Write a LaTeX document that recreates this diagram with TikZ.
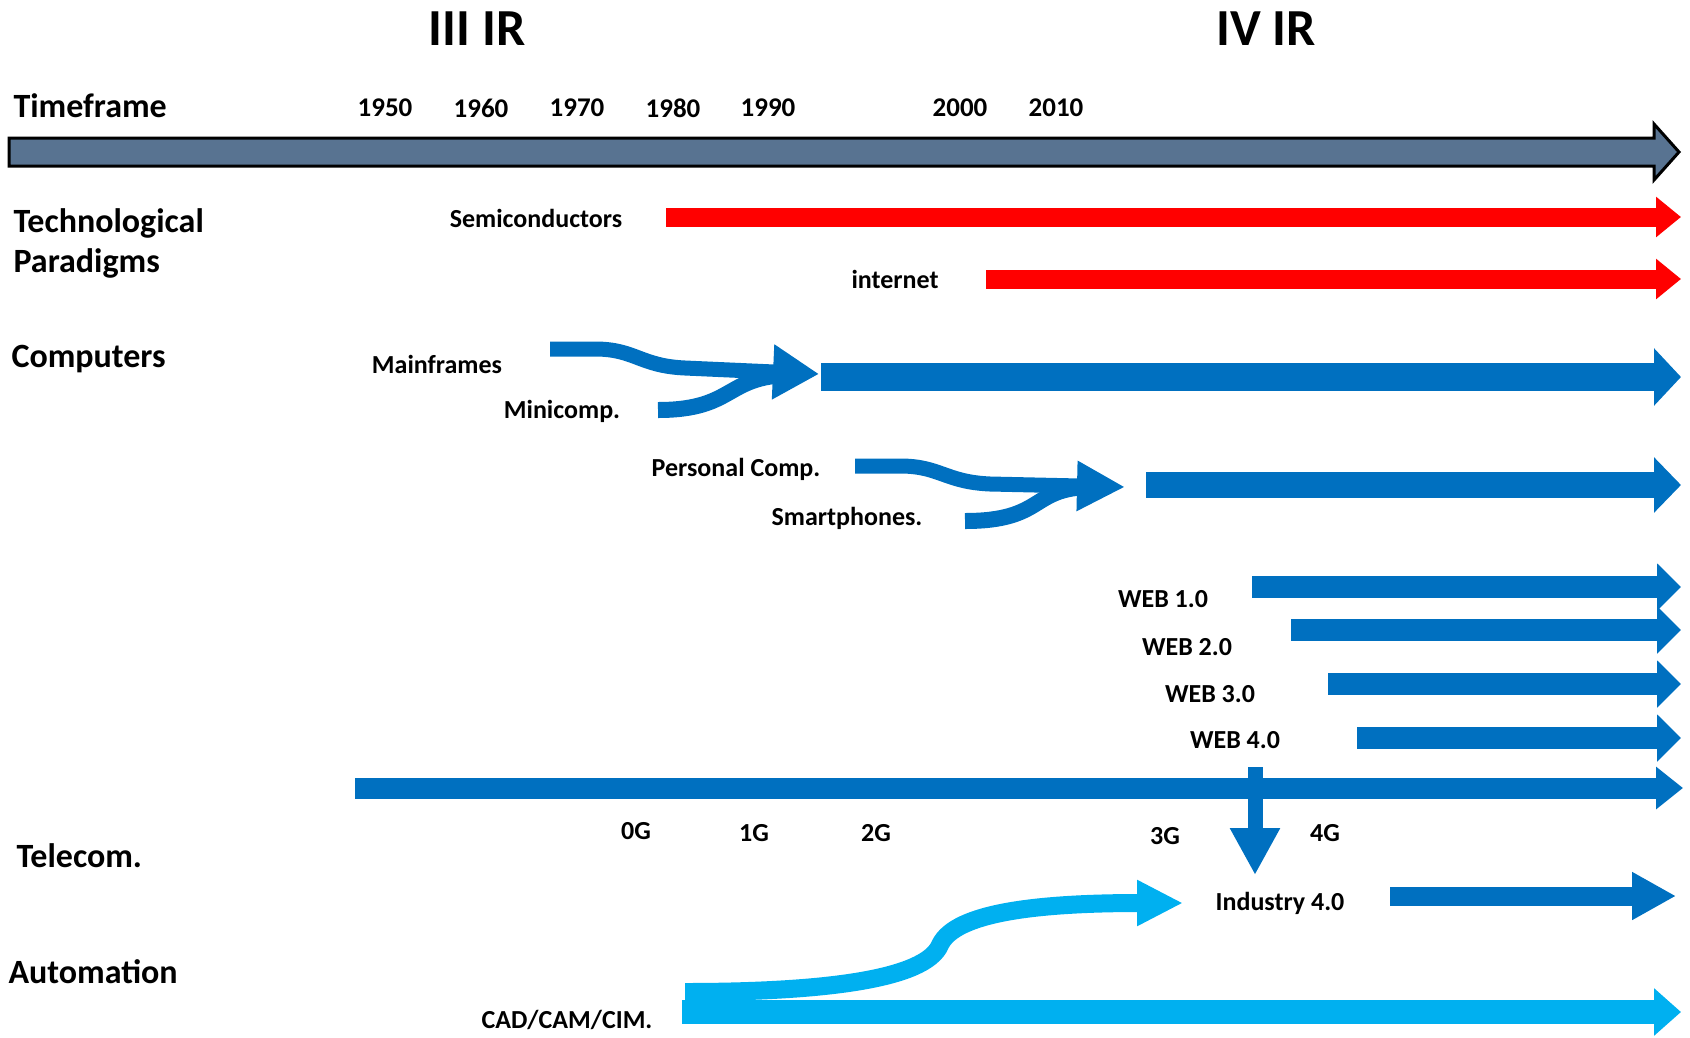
\documentclass[tikz,border=0pt]{standalone}
\usepackage{fontspec}
\setmainfont{Carlito}
\usetikzlibrary{arrows.meta}
\definecolor{tlslate}{RGB}{88,115,145}
\definecolor{tlred}{RGB}{255,0,0}
\definecolor{tlblue}{RGB}{0,112,192}
\definecolor{tlcyan}{RGB}{0,176,240}
\newcommand{\tlsize}[2]{\fontsize{#1}{#2}\selectfont\bfseries}

\begin{document}
\begin{tikzpicture}[x=1pt,y=-1pt,
  eralabel/.style={font=\tlsize{52}{52}},
  rowlabel/.style={anchor=west,align=left,font=\tlsize{34}{40}},
  yearlabel/.style={font=\tlsize{27}{27}},
  smalllabel/.style={font=\tlsize{26}{26}},
  fatarrow/.style n args={3}{line width=#1,-{Triangle[length=#2,width=#3]}}]

\useasboundingbox (0,0) rectangle (1690,1037);

% eras and row titles
\node[eralabel] (ir3) at (477,29) {III IR};
\node[eralabel] (ir4) at (1266,29) {IV IR};
\node[rowlabel] (tf) at (10,106) {Timeframe};
\node[rowlabel] (tp) at (10,243) {Technological\\Paradigms};
\node[rowlabel] (comp) at (8,359) {Computers};
\node[rowlabel] (tel) at (13,856) {Telecom.};
\node[rowlabel] (auto) at (5,972) {Automation};

% timeline
\foreach \yr/\x in {1950/385,1960/481,1970/577,1980/673,1990/768,2000/960,2010/1056}
  \node[yearlabel] (y\yr) at (\x,108) {\yr};
\filldraw[fill=tlslate,draw=black,line width=3pt,line join=miter]
  (9,138) -- (1654,138) -- (1654,124) -- (1679,152) -- (1654,180) -- (1654,166) -- (9,166) -- cycle;

% paradigms
\node[smalllabel] (semi) at (536,218) {Semiconductors};
\node[smalllabel] (inet) at (895,279) {internet};
\coordinate (semiS) at (666,217);
\coordinate (semiE) at (1681,217);
\coordinate (inetS) at (986,279);
\coordinate (inetE) at (1681,279);
\draw[tlred,fatarrow={19pt}{25pt}{39pt}] (semiS) -- (semiE);
\draw[tlred,fatarrow={19pt}{25pt}{39pt}] (inetS) -- (inetE);

% computers
\node[smalllabel] (mainf) at (437,364) {Mainframes};
\node[smalllabel] (minic) at (562,411) {Minicomp.};
\coordinate (mainfS) at (550,349);
\coordinate (minicS) at (658,410);
\coordinate (compJ) at (819,374);
\draw[tlblue,line width=16pt] (minicS) .. controls (735,410) and (725,376) .. (790,375);
\draw[tlblue,fatarrow={15pt}{46pt}{52pt}] (mainfS) -- (595,349)
  .. controls (635,349) and (640,366) .. (685,368) -- (compJ);
\coordinate (compS) at (821,377);
\coordinate (compE) at (1681,377);
\draw[tlblue,fatarrow={28pt}{27pt}{56pt}] (compS) -- (compE);

\node[smalllabel] (pc) at (736,469) {Personal Comp.};
\node[smalllabel] (smart) at (847,518) {Smartphones.};
\coordinate (pcS) at (855,466);
\coordinate (smartS) at (965,521);
\coordinate (pcJ) at (1125,487);
\draw[tlblue,line width=16pt] (smartS) .. controls (1045,521) and (1030,488) .. (1090,487);
\draw[tlblue,fatarrow={15pt}{48pt}{47pt}] (pcS) -- (900,466)
  .. controls (940,466) and (945,482) .. (990,484) -- (pcJ);
\coordinate (pcS2) at (1146,485);
\coordinate (pcE2) at (1681,485);
\draw[tlblue,fatarrow={26pt}{27pt}{54pt}] (pcS2) -- (pcE2);

% web
\foreach \n/\lx/\ly/\sx/\ay in {1/1163/599/1252/587,2/1187/647/1291/630,3/1210/694/1328/684,4/1235/740/1357/738} {
  \node[smalllabel] (web\n) at (\lx,\ly) {WEB \n.0};
  \coordinate (webS\n) at (\sx,\ay);
  \coordinate (webE\n) at (1681,\ay);
  \draw[tlblue,fatarrow={22pt}{24pt}{46pt}] (webS\n) -- (webE\n);
}

% telecom
\coordinate (telS) at (355,788);
\coordinate (telE) at (1683,788);
\draw[tlblue,fatarrow={21pt}{27pt}{41pt}] (telS) -- (telE);
\foreach \g/\x/\y in {0/636/831,1/754/833,2/876/833,3/1165/836,4/1325/833}
  \node[smalllabel] (g\g) at (\x,\y) {\g G};
\coordinate (dropS) at (1255,767);
\coordinate (dropE) at (1255,875);
\draw[tlblue,fatarrow={15pt}{47pt}{47pt}] (dropS) -- (dropE);

% automation
\node[smalllabel] (ind) at (1280,903) {Industry 4.0};
\coordinate (indS) at (1390,896);
\coordinate (indE) at (1676,896);
\draw[tlblue,fatarrow={19pt}{44pt}{45pt}] (indS) -- (indE);
\node[smalllabel] (cad) at (567,1020) {CAD/CAM/CIM.};
\coordinate (cadS) at (682,1012);
\coordinate (cadE) at (1681,1012);
\coordinate (cadJ) at (1183,903);
\draw[tlcyan,fatarrow={18pt}{46pt}{43pt}] (685,992) .. controls (820,992) and (925,980) .. (940,945)
  .. controls (955,912) and (1040,903) .. (cadJ);
\draw[tlcyan,fatarrow={24pt}{27pt}{46pt}] (cadS) -- (cadE);

\end{tikzpicture}
\end{document}
